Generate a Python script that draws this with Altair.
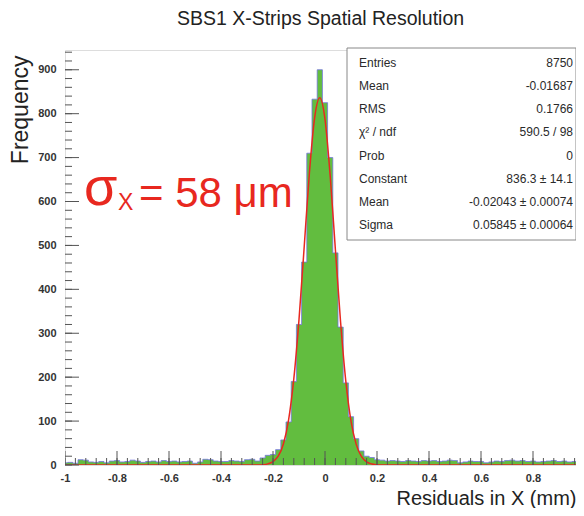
import altair as alt
import pandas as pd

# ---------------- data ----------------
# histogram: 101 bins of width 0.02, centres -1.00 ... 1.00
bin_centers = [round(-1.0 + 0.02 * i, 2) for i in range(101)]
counts_left = [5, 6, 4, 12, 11, 7, 6, 8, 5, 9,
               10, 7, 8, 11, 9, 6, 8, 9, 7, 10,
               8, 9, 7, 8, 9, 4, 7, 13, 12, 9,
               8, 8, 10, 9, 8, 12, 13, 9, 16, 22]
counts_peak = [24, 35, 57, 98, 190, 320, 462, 710, 833, 900,
               825, 700, 483, 314, 187, 110, 60, 32, 20, 17, 12]
counts_right = [11, 9, 10, 9, 8, 10, 9, 8, 10, 9,
                10, 8, 9, 11, 10, 5, 7, 9, 8, 8,
                5, 7, 9, 8, 10, 11, 9, 10, 8, 9,
                7, 8, 9, 10, 8, 9, 7, 8, 6, 5]
counts = counts_left + counts_peak + counts_right

# gaussian fit curve (red)
fit_x = [-1.0, -0.40, -0.30, -0.28, -0.26, -0.24, -0.22, -0.20, -0.18, -0.16,
         -0.14, -0.12, -0.10, -0.08, -0.06, -0.04, -0.02, 0.00, 0.02, 0.04,
         0.06, 0.08, 0.10, 0.12, 0.14, 0.16, 0.18, 0.20, 0.22, 0.24, 0.30, 1.0]
fit_y = [0, 0, 0.01, 0.05, 0.19, 0.72, 2.5, 7.5, 20, 48,
         103, 196, 331, 497, 665, 790, 836, 787, 658, 490,
         325, 191, 100, 47, 19.4, 7.1, 2.3, 0.7, 0.18, 0.04, 0, 0]

# stats box
stat_labels = ["Entries", "Mean", "RMS", "\u03c7\u00b2 / ndf", "Prob",
               "Constant", "Mean", "Sigma"]
stat_values = ["8750", "-0.01687", "0.1766", "590.5 / 98", "0",
               "836.3 \u00b1 14.1", "-0.02043 \u00b1 0.00074",
               "0.05845 \u00b1 0.00064"]

# axis ticks
x_major = [-1.0, -0.8, -0.6, -0.4, -0.2, 0.0, 0.2, 0.4, 0.6, 0.8, 1.0]
x_minor = [round(-1.0 + 0.04 * i, 2) for i in range(51)]
y_major = [0, 100, 200, 300, 400, 500, 600, 700, 800, 900]
y_minor = [v for v in range(0, 941, 20)]

title_text = "SBS1 X-Strips Spatial Resolution"
x_title = "Residuals in X (mm)"
y_title = "Frequency"

# ---------------- styling ----------------
W, H = 511, 415
XMAX = -1 + W / 260.0          # plot is cut at the page edge like the reference
FONT = "Liberation Sans"
GREEN = "#62bd3f"
BLUE = "#7474e0"
RED = "#e8281f"
TICK = "#555555"

xscale = alt.Scale(domain=[-1, XMAX], nice=False, zero=False)
yscale = alt.Scale(domain=[0, 945], nice=False, zero=False)

x_axis = alt.Axis(values=[v for v in x_major if v <= XMAX], ticks=False,
                  domain=False, grid=False,
                  labelExpr="'' + (round(datum.value*10)/10)",
                  labelFont=FONT, labelFontSize=11, labelFontWeight="bold",
                  labelColor="#333333", labelPadding=7, labelFlush=False,
                  labelOverlap=False,
                  title=x_title, titleFont=FONT, titleFontSize=20,
                  titleFontWeight="normal", titleColor="#222222",
                  titleX=W, titleY=39, titleAlign="right",
                  titleBaseline="alphabetic")
y_axis = alt.Axis(values=y_major, ticks=False, domain=False, grid=False,
                  labelFont=FONT, labelFontSize=11, labelFontWeight="bold",
                  labelColor="#333333", labelPadding=9, labelFlush=False,
                  labelOverlap=False,
                  title=y_title, titleFont=FONT, titleFontSize=23,
                  titleFontWeight="normal", titleColor="#222222",
                  titleX=-45, titleY=5, titleAngle=270, titleAlign="right",
                  titleBaseline="middle")

X = lambda: alt.X("x:Q", scale=xscale, axis=x_axis)
Y = lambda: alt.Y("y:Q", scale=yscale, axis=y_axis)

hist_df = pd.DataFrame({"x": bin_centers, "y": counts})
fit_df = pd.DataFrame({"x": fit_x, "y": fit_y})

area = alt.Chart(hist_df).mark_area(interpolate="step", color=GREEN,
                                     opacity=1, clip=True).encode(x=X(), y=Y())
outline = alt.Chart(hist_df).mark_line(interpolate="step", color=BLUE,
                                       strokeWidth=1, opacity=0.8,
                                       clip=True).encode(x=X(), y=Y())
fit = alt.Chart(fit_df).mark_line(interpolate="monotone", color=RED,
                                  strokeWidth=1.5, clip=True).encode(x=X(), y=Y())

ymaj = alt.Chart(pd.DataFrame({"y": y_major})).mark_rule(color=TICK, strokeWidth=1).encode(
    y=Y(), x=alt.value(0), x2=alt.value(14))
ymin = alt.Chart(pd.DataFrame({"y": y_minor})).mark_rule(color=TICK, strokeWidth=1).encode(
    y=Y(), x=alt.value(0), x2=alt.value(7))
xmaj = alt.Chart(pd.DataFrame({"x": x_major})).mark_rule(color=TICK, strokeWidth=1,
                                                          clip=True).encode(
    x=X(), y=alt.value(H), y2=alt.value(H - 14))
xmin = alt.Chart(pd.DataFrame({"x": x_minor})).mark_rule(color=TICK, strokeWidth=1,
                                                          clip=True).encode(
    x=X(), y=alt.value(H), y2=alt.value(H - 7))

layers = [area, outline, fit, ymin, ymaj, xmin, xmaj]

# stats box
box_top, box_bottom, box_left, box_right = -2, 190, 282, W
box = alt.Chart(pd.DataFrame({"a": [0]})).mark_rect(
    fill="white", stroke="#888888", strokeWidth=1).encode(
    x=alt.value(box_left), x2=alt.value(box_right),
    y=alt.value(box_top), y2=alt.value(box_bottom))
layers.append(box)
row_first, row_step = 13, 23.15
for i, (lab, val) in enumerate(zip(stat_labels, stat_values)):
    yy = row_first + i * row_step
    layers.append(alt.Chart(pd.DataFrame({"a": [0]})).mark_text(
        text=lab, font=FONT, fontSize=12, color="#2a2a2a", align="left",
        baseline="middle").encode(x=alt.value(box_left + 12), y=alt.value(yy)))
    layers.append(alt.Chart(pd.DataFrame({"a": [0]})).mark_text(
        text=val, font=FONT, fontSize=12, color="#2a2a2a", align="right",
        baseline="middle").encode(x=alt.value(box_right - 3), y=alt.value(yy)))

# big red annotation
layers.append(alt.Chart(pd.DataFrame({"a": [0]})).mark_text(
    text="\u03c3", font=FONT, fontSize=54, color=RED, align="left",
    baseline="alphabetic").encode(x=alt.value(19), y=alt.value(155)))
layers.append(alt.Chart(pd.DataFrame({"a": [0]})).mark_text(
    text="X", font=FONT, fontSize=23, color=RED, align="left",
    baseline="alphabetic").encode(x=alt.value(53), y=alt.value(160)))
layers.append(alt.Chart(pd.DataFrame({"a": [0]})).mark_text(
    text="= 58 \u03bcm", font=FONT, fontSize=42, color=RED, align="left",
    baseline="alphabetic").encode(x=alt.value(74), y=alt.value(157)))

chart = alt.layer(*layers).properties(
    width=W, height=H,
    title=alt.TitleParams(title_text, font=FONT, fontSize=19.5,
                          fontWeight="normal", color="#222222",
                          anchor="middle", offset=18),
    padding={"left": 57, "top": 42, "right": 0, "bottom": 43},
    autosize="none",
).configure_view(stroke="#8a8a8a", strokeWidth=1).configure(background="white")

chart.save("out.html", embed_options={"renderer": "svg", "actions": False})
